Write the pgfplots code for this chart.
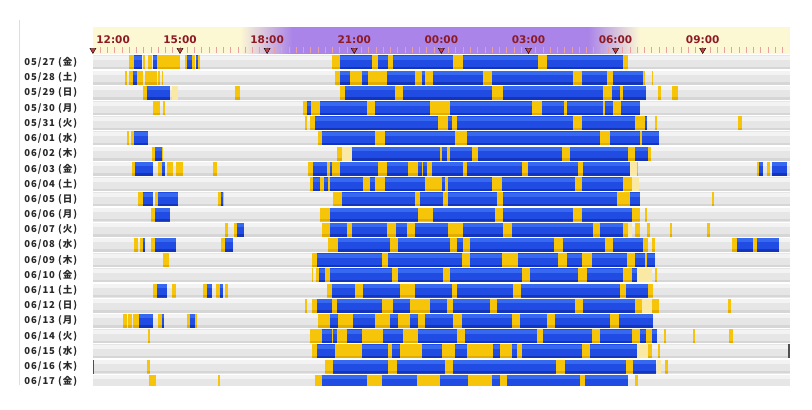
\documentclass[border=0pt]{standalone}
\usepackage{pgfplots}
\pgfplotsset{compat=1.18}
\usepackage{pgfplotstable}
\usepackage{fontspec}
\setmainfont{DejaVu Sans}
\newfontfamily\cjk[LetterSpace=10]{Noto Sans CJK JP}

\definecolor{cgray}{RGB}{230,230,230}
\definecolor{cgrayhi}{RGB}{243,243,243}
\definecolor{cgraylo}{RGB}{214,214,214}
\definecolor{cblue}{RGB}{32,76,228}
\definecolor{cbluehi}{RGB}{55,105,240}
\definecolor{cbluelo}{RGB}{20,52,185}
\definecolor{cyel}{RGB}{246,196,8}
\definecolor{cyello}{RGB}{226,172,0}
\definecolor{clyel}{RGB}{250,232,165}
\definecolor{cdark}{RGB}{80,80,80}
\definecolor{chy}{RGB}{253,248,212}
\definecolor{chp}{RGB}{170,132,232}
\definecolor{ctxt}{RGB}{140,25,35}
\definecolor{ctri}{RGB}{205,60,60}
\definecolor{ctick}{RGB}{232,160,160}
\definecolor{clab}{RGB}{40,40,40}
\definecolor{cline}{RGB}{205,226,245}

% sleep log: day index, start, end (hours, 12 = noon, 24 = midnight)
\pgfplotstableread[row sep=\\]{
d s e\\
0 12 36\\ 1 12 36\\ 2 12 36\\ 3 12 36\\ 4 12 36\\ 5 12 36\\ 6 12 36\\ 7 12 36\\
8 12 36\\ 9 12 36\\ 10 12 36\\ 11 12 36\\ 12 12 36\\ 13 12 36\\ 14 12 36\\ 15 12 36\\
16 12 36\\ 17 12 36\\ 18 12 36\\ 19 12 36\\ 20 12 36\\ 21 12 36\\
}\days

\pgfplotstableread[row sep=\\]{
d s e\\
0 13.43 13.70\\ 0 14.06 14.20\\ 0 15.24 15.41\\ 0 15.55 15.63\\ 0 20.51 21.60\\ 0 21.83 22.16\\ 0 22.33 24.41\\ 0 24.76 27.34\\ 0 27.63 30.26\\
1 13.38 13.52\\ 1 20.51 20.85\\ 1 21.26 21.48\\ 1 22.14 23.09\\ 1 23.32 23.44\\ 1 23.72 25.42\\ 1 25.73 28.54\\ 1 28.83 29.69\\ 1 29.92 30.93\\
2 13.85 14.66\\ 2 20.68 22.40\\ 2 22.69 25.73\\ 2 26.13 29.58\\ 2 29.87 30.15\\ 2 30.26 31.05\\
3 19.36 19.50\\ 3 19.82 21.43\\ 3 21.71 23.61\\ 3 24.30 27.11\\ 3 27.46 28.22\\ 3 28.34 29.57\\ 3 29.63 29.92\\ 3 30.19 30.84\\
4 19.65 23.89\\ 4 24.24 24.36\\ 4 24.53 28.54\\ 4 28.83 30.67\\ 4 31.01 31.09\\
5 13.42 13.91\\ 5 19.88 21.71\\ 5 22.06 24.47\\ 5 24.87 29.46\\ 5 29.81 30.84\\ 5 30.90 31.50\\
6 14.14 14.37\\ 6 20.91 23.95\\ 6 24.01 24.18\\ 6 24.30 25.04\\ 6 25.27 28.14\\ 6 28.43 30.44\\ 6 30.67 31.13\\
7 13.45 14.08\\ 7 14.37 14.48\\ 7 19.59 20.05\\ 7 20.16 20.22\\ 7 20.51 21.83\\ 7 22.12 22.86\\ 7 23.21 23.32\\ 7 23.38 23.49\\ 7 23.67 24.76\\ 7 24.87 26.77\\ 7 26.99 28.72\\ 7 28.89 30.50\\ 7 34.95 35.09\\ 7 35.38 35.91\\
8 19.59 19.82\\ 8 19.96 20.11\\ 8 20.16 21.31\\ 8 21.54 21.71\\ 8 22.06 23.44\\ 8 24.01 24.12\\ 8 24.24 25.73\\ 8 26.08 28.60\\ 8 28.83 30.26\\
9 13.71 14.06\\ 9 14.25 14.94\\ 9 16.40 16.47\\ 9 20.57 23.09\\ 9 23.26 24.07\\ 9 24.24 25.91\\ 9 26.13 30.04\\ 9 30.50 30.84\\
10 14.14 14.66\\ 10 20.16 23.21\\ 10 23.72 25.85\\ 10 26.13 28.54\\ 10 28.83 30.55\\
11 16.95 17.20\\ 11 20.16 20.74\\ 11 20.91 22.14\\ 11 22.44 22.81\\ 11 23.09 24.24\\ 11 24.76 26.13\\ 11 26.42 29.23\\ 11 29.46 30.26\\
12 13.74 13.79\\ 12 14.14 14.86\\ 12 16.55 16.83\\ 12 20.45 22.23\\ 12 22.52 24.30\\ 12 24.53 24.76\\ 12 24.99 27.88\\ 12 28.18 29.63\\ 12 29.92 30.95\\ 12 34.17 34.74\\ 12 34.88 35.64\\
13 19.71 21.94\\ 13 22.17 24.70\\ 13 24.99 26.08\\ 13 26.65 28.03\\ 13 28.32 28.83\\ 13 29.18 30.38\\ 13 30.67 31.01\\ 13 31.07 31.36\\
14 19.80 19.99\\ 14 20.16 22.29\\ 14 22.52 24.07\\ 14 24.30 26.77\\ 14 27.05 28.72\\ 14 29.00 30.26\\ 14 30.55 30.73\\
15 14.20 14.54\\ 15 15.92 16.09\\ 15 16.38 16.49\\ 15 20.22 21.03\\ 15 21.31 22.58\\ 15 23.09 24.36\\ 15 24.55 26.48\\ 15 26.73 30.15\\ 15 30.36 31.13\\
16 19.71 20.22\\ 16 20.40 21.94\\ 16 22.34 22.92\\ 16 23.61 24.18\\ 16 24.41 25.68\\ 16 25.91 28.60\\ 16 28.89 30.67\\
17 13.60 14.08\\ 17 14.37 14.45\\ 17 15.34 15.52\\ 17 20.16 20.45\\ 17 20.97 21.71\\ 17 22.23 22.52\\ 17 22.92 23.21\\ 17 23.44 24.41\\ 17 24.70 26.42\\ 17 26.71 27.63\\ 17 27.91 29.81\\ 17 30.13 31.30\\
18 19.88 20.22\\ 18 20.28 20.40\\ 18 20.74 21.26\\ 18 22.00 22.69\\ 18 23.21 24.53\\ 18 24.81 27.28\\ 18 27.51 29.18\\ 18 29.46 30.55\\ 18 30.84 31.05\\ 18 31.24 31.41\\
19 19.71 20.34\\ 19 21.26 22.17\\ 19 22.29 22.58\\ 19 23.32 24.01\\ 19 24.47 24.87\\ 19 25.79 26.02\\ 19 26.42 26.59\\ 19 26.77 28.83\\ 19 29.12 30.73\\
20 20.28 22.17\\ 20 22.46 24.12\\ 20 24.41 27.95\\ 20 28.26 30.36\\ 20 30.59 31.39\\
21 19.88 21.43\\ 21 21.94 23.15\\ 21 23.95 24.93\\ 21 25.73 26.02\\ 21 26.25 28.77\\ 21 28.95 30.44\\
}\sleep

\pgfplotstableread[row sep=\\]{
d s e\\
0 13.25 13.43\\ 0 13.73 13.79\\ 0 13.90 14.04\\ 0 14.20 15.00\\ 0 15.17 15.24\\ 0 15.41 15.52\\ 0 15.63 15.69\\ 0 20.22 20.51\\ 0 21.60 21.83\\ 0 22.16 22.33\\ 0 24.41 24.76\\ 0 27.34 27.63\\ 0 30.26 30.43\\
1 13.11 13.16\\ 1 13.24 13.38\\ 1 13.52 13.73\\ 1 13.79 14.21\\ 1 14.24 14.31\\ 1 14.37 14.42\\ 1 20.34 20.51\\ 1 20.85 21.26\\ 1 21.48 22.14\\ 1 23.09 23.32\\ 1 23.44 23.72\\ 1 25.42 25.73\\ 1 28.54 28.83\\ 1 29.69 29.92\\ 1 30.93 31.01\\ 1 31.24 31.30\\
2 13.74 13.85\\ 2 16.89 17.07\\ 2 20.51 20.68\\ 2 22.40 22.69\\ 2 25.73 26.13\\ 2 29.58 29.87\\ 2 30.15 30.26\\ 2 31.46 31.55\\ 2 31.93 32.16\\
3 14.08 14.31\\ 3 14.40 14.48\\ 3 19.22 19.36\\ 3 19.50 19.82\\ 3 21.43 21.71\\ 3 23.61 24.30\\ 3 27.11 27.46\\ 3 28.22 28.34\\ 3 29.57 29.63\\ 3 29.92 30.19\\
4 19.30 19.36\\ 4 19.48 19.65\\ 4 23.89 24.24\\ 4 24.36 24.53\\ 4 28.54 28.83\\ 4 30.67 31.01\\ 4 31.36 31.41\\ 4 34.22 34.34\\
5 13.18 13.25\\ 5 13.30 13.42\\ 5 19.76 19.88\\ 5 21.71 22.06\\ 5 24.47 24.87\\ 5 29.46 29.81\\ 5 30.84 30.90\\
6 14.02 14.14\\ 6 14.37 14.42\\ 6 20.40 20.57\\ 6 23.95 24.01\\ 6 24.18 24.30\\ 6 25.04 25.27\\ 6 28.14 28.43\\ 6 30.44 30.67\\ 6 31.13 31.21\\
7 13.34 13.45\\ 7 14.25 14.37\\ 7 14.54 14.77\\ 7 14.86 15.09\\ 7 16.15 16.28\\ 7 19.42 19.59\\ 7 20.05 20.16\\ 7 20.22 20.51\\ 7 21.83 22.12\\ 7 22.86 23.21\\ 7 23.32 23.38\\ 7 23.49 23.67\\ 7 24.76 24.87\\ 7 26.77 26.99\\ 7 28.72 28.89\\ 7 30.73 30.78\\ 7 34.86 34.95\\ 7 35.22 35.32\\
8 19.48 19.59\\ 8 19.82 19.96\\ 8 20.11 20.16\\ 8 21.31 21.54\\ 8 21.71 22.06\\ 8 23.44 24.01\\ 8 24.12 24.24\\ 8 25.73 26.08\\ 8 28.60 28.83\\ 8 30.26 30.55\\
9 13.56 13.71\\ 9 14.14 14.25\\ 9 16.32 16.40\\ 9 16.47 16.51\\ 9 20.28 20.57\\ 9 23.09 23.26\\ 9 24.07 24.24\\ 9 25.91 26.13\\ 9 30.04 30.50\\ 9 33.33 33.39\\
10 13.99 14.14\\ 10 19.82 20.16\\ 10 23.21 23.72\\ 10 25.85 26.13\\ 10 28.54 28.83\\ 10 30.55 30.84\\ 10 31.01 31.07\\
11 16.55 16.66\\ 11 16.86 16.95\\ 11 19.88 20.16\\ 11 20.74 20.91\\ 11 22.14 22.44\\ 11 22.81 23.09\\ 11 24.24 24.76\\ 11 26.13 26.42\\ 11 29.23 29.46\\ 11 30.26 30.44\\ 11 30.67 30.84\\ 11 31.07 31.18\\ 11 31.87 31.93\\ 11 33.14 33.25\\
12 13.43 13.56\\ 12 13.62 13.74\\ 12 14.00 14.14\\ 12 16.41 16.55\\ 12 20.11 20.45\\ 12 22.23 22.52\\ 12 24.30 24.53\\ 12 24.76 24.99\\ 12 27.88 28.18\\ 12 29.63 29.92\\ 12 30.95 31.13\\ 12 31.24 31.36\\ 12 34.00 34.17\\ 12 34.74 34.88\\
13 14.42 14.63\\ 13 19.53 19.71\\ 13 21.94 22.17\\ 13 24.70 24.99\\ 13 26.08 26.65\\ 13 28.03 28.32\\ 13 28.83 29.18\\ 13 30.38 30.67\\ 13 31.01 31.07\\
14 19.53 19.59\\ 14 19.68 19.80\\ 14 19.99 20.16\\ 14 22.29 22.52\\ 14 24.07 24.30\\ 14 26.77 27.05\\ 14 28.72 29.00\\ 14 30.26 30.55\\ 14 31.36 31.44\\
15 14.08 14.20\\ 15 14.71 14.86\\ 15 15.80 15.92\\ 15 16.24 16.38\\ 15 16.55 16.66\\ 15 20.05 20.22\\ 15 21.03 21.31\\ 15 22.58 23.09\\ 15 24.36 24.55\\ 15 26.48 26.73\\ 15 30.15 30.36\\ 15 31.13 31.28\\
16 19.30 19.36\\ 16 19.53 19.71\\ 16 20.22 20.40\\ 16 21.94 22.34\\ 16 22.92 23.61\\ 16 24.18 24.41\\ 16 25.68 25.91\\ 16 28.60 28.89\\ 16 30.67 30.90\\ 16 31.24 31.50\\ 16 33.88 33.96\\
17 13.05 13.16\\ 17 13.22 13.34\\ 17 13.39 13.60\\ 17 14.25 14.37\\ 17 15.23 15.34\\ 17 15.52 15.57\\ 17 19.76 20.16\\ 17 20.45 20.97\\ 17 21.71 22.23\\ 17 22.52 22.92\\ 17 23.21 23.44\\ 17 24.41 24.70\\ 17 26.42 26.71\\ 17 27.63 27.91\\ 17 29.81 30.13\\
18 13.91 13.97\\ 18 19.48 19.88\\ 18 20.22 20.28\\ 18 20.40 20.74\\ 18 21.26 22.00\\ 18 22.69 23.21\\ 18 24.53 24.81\\ 18 27.28 27.51\\ 18 29.18 29.46\\ 18 30.55 30.84\\ 18 31.05 31.24\\ 18 31.67 31.73\\ 18 32.68 32.74\\ 18 33.92 34.05\\
19 19.53 19.71\\ 19 20.34 21.26\\ 19 22.17 22.29\\ 19 22.58 23.32\\ 19 24.01 24.47\\ 19 24.87 25.79\\ 19 26.02 26.42\\ 19 26.59 26.77\\ 19 28.83 29.12\\ 19 31.13 31.24\\ 19 31.46 31.53\\
20 13.85 13.97\\ 20 19.99 20.28\\ 20 22.17 22.46\\ 20 24.12 24.41\\ 20 27.95 28.26\\ 20 30.36 30.59\\ 20 31.70 31.81\\
21 13.94 14.17\\ 21 16.32 16.38\\ 21 19.65 19.88\\ 21 21.43 21.94\\ 21 23.15 23.95\\ 21 24.93 25.73\\ 21 26.02 26.25\\ 21 28.77 28.95\\ 21 30.67 30.78\\
}\doze

\pgfplotstableread[row sep=\\]{
d s e\\
2 14.72 14.93\\ 6 20.57 20.91\\ 7 30.50 30.73\\ 8 30.55 30.81\\ 11 30.44 30.55\\
14 30.73 31.24\\ 16 30.90 31.24\\ 19 30.73 31.13\\ 20 31.42 31.55\\
}\light

\pgfplotstableread[row sep=\\]{
d s e\\
19 35.93 36.00\\ 20 12.00 12.05\\
}\dark

% quarter-hour ticks of the time header
\pgfplotstableread[row sep=\\]{
x y\\ 12.25 0.836\\ 12.5 0.836\\ 12.75 0.836\\ 13 0.836\\ 13.25 0.836\\ 13.5 0.836\\ 13.75 0.836\\ 14 0.836\\
14.25 0.836\\ 14.5 0.836\\ 14.75 0.836\\ 15 0.836\\ 15.25 0.836\\ 15.5 0.836\\ 15.75 0.836\\ 16 0.836\\
16.25 0.836\\ 16.5 0.836\\ 16.75 0.836\\ 17 0.836\\ 17.25 0.836\\ 17.5 0.836\\ 17.75 0.836\\ 18 0.836\\
18.25 0.836\\ 18.5 0.836\\ 18.75 0.836\\ 19 0.836\\ 19.25 0.836\\ 19.5 0.836\\ 19.75 0.836\\ 20 0.836\\
20.25 0.836\\ 20.5 0.836\\ 20.75 0.836\\ 21 0.836\\ 21.25 0.836\\ 21.5 0.836\\ 21.75 0.836\\ 22 0.836\\
22.25 0.836\\ 22.5 0.836\\ 22.75 0.836\\ 23 0.836\\ 23.25 0.836\\ 23.5 0.836\\ 23.75 0.836\\ 24 0.836\\
24.25 0.836\\ 24.5 0.836\\ 24.75 0.836\\ 25 0.836\\ 25.25 0.836\\ 25.5 0.836\\ 25.75 0.836\\ 26 0.836\\
26.25 0.836\\ 26.5 0.836\\ 26.75 0.836\\ 27 0.836\\ 27.25 0.836\\ 27.5 0.836\\ 27.75 0.836\\ 28 0.836\\
28.25 0.836\\ 28.5 0.836\\ 28.75 0.836\\ 29 0.836\\ 29.25 0.836\\ 29.5 0.836\\ 29.75 0.836\\ 30 0.836\\
30.25 0.836\\ 30.5 0.836\\ 30.75 0.836\\ 31 0.836\\ 31.25 0.836\\ 31.5 0.836\\ 31.75 0.836\\ 32 0.836\\
32.25 0.836\\ 32.5 0.836\\ 32.75 0.836\\ 33 0.836\\ 33.25 0.836\\ 33.5 0.836\\ 33.75 0.836\\ 34 0.836\\
34.25 0.836\\ 34.5 0.836\\ 34.75 0.836\\ 35 0.836\\ 35.25 0.836\\ 35.5 0.836\\ 35.75 0.836\\
}\hticks

\pgfplotsset{
  seg/.style 2 args={draw=none, mark=none, forget plot,
    error bars/x dir=plus, error bars/x explicit, error bars/error mark=none,
    error bars/error bar style={line width=#1, draw=#2, solid}},
}
% table, y offset (units), thickness, colour
\newcommand\segs[4]{%
  \addplot[seg={#3}{#4}] table[x=s, y expr=-\thisrow{d}+(#2),
    x error expr=\thisrow{e}-\thisrow{s}] {#1};}

\begin{document}
\begin{tikzpicture}
\useasboundingbox (-92.9pt,-25pt) rectangle (719.1pt,385pt);
\begin{axis}[
    scale only axis,
    width=696.9pt, height=357.5pt,
    xmin=12, xmax=36,
    ymin=-21.217, ymax=2.3026,
    axis on top,
    axis line style={draw=none},
    major tick length=0pt,
    xtick={15,18,21,24,27,30,33},
    xticklabels={15:00,18:00,21:00,00:00,03:00,06:00,09:00},
    extra x ticks={12},
    extra x tick labels={12:00},
    extra x tick style={xticklabel style={anchor=west}},
    xticklabel pos=upper,
    xticklabel style={anchor=center, yshift=-12.5pt, text=ctxt,
      font=\bfseries\fontsize{10.5}{12}\selectfont},
    ytick={0,-1,...,-21},
    yticklabels={05/27 (金),05/28 (土),05/29 (日),05/30 (月),05/31 (火),
      06/01 (水),06/02 (木),06/03 (金),06/04 (土),06/05 (日),06/06 (月),
      06/07 (火),06/08 (水),06/09 (木),06/10 (金),06/11 (土),06/12 (日),
      06/13 (月),06/14 (火),06/15 (水),06/16 (木),06/17 (金)},
    yticklabel style={anchor=west, xshift=-72pt, text=clab,
      font=\cjk\bfseries\fontsize{9.5}{10}\selectfont},
  ]
  % header band
  \addplot[draw=none, fill=chy] coordinates {(12,2.31) (36,2.31) (36,0.592) (12,0.592)} -- cycle;
  \addplot[draw=none, left color=chy, right color=chp] coordinates {(17.07,2.31) (18.87,2.31) (18.87,0.592) (17.07,0.592)} -- cycle;
  \addplot[draw=none, fill=chp] coordinates {(18.85,2.31) (29.07,2.31) (29.07,0.592) (18.85,0.592)} -- cycle;
  \addplot[draw=none, left color=chp, right color=chy] coordinates {(29.05,2.31) (30.85,2.31) (30.85,0.592) (29.05,0.592)} -- cycle;
  \addplot[only marks, mark=|, mark size=3.25pt, mark options={line width=0.8pt, draw=ctick}]
    table[x=x, y=y] {\hticks};
  \addplot[only marks, mark=triangle*, mark size=3.5pt,
    mark options={rotate=180, fill=ctri, draw=none}]
    coordinates {(12,0.822) (15,0.822) (18,0.822) (21,0.822) (24,0.822) (27,0.822) (30,0.822) (33,0.822)};

  % rows
  \segs{\days}{0}{14pt}{cgray}
  \segs{\days}{0.296}{4pt}{cgrayhi}
  \segs{\days}{-0.378}{2.5pt}{cgraylo}
  \segs{\doze}{0}{14pt}{cyel}
  \segs{\doze}{-0.378}{2.5pt}{cyello}
  \segs{\light}{0}{14pt}{clyel}
  \segs{\sleep}{0}{14pt}{cblue}
  \segs{\sleep}{0.296}{4pt}{cbluehi}
  \segs{\sleep}{-0.378}{2.5pt}{cbluelo}
  \segs{\dark}{0}{14pt}{cdark}
\end{axis}
\draw[cline, line width=1pt] (-72.9pt,0pt) -- (-72.9pt,365pt);
\end{tikzpicture}
\end{document}
